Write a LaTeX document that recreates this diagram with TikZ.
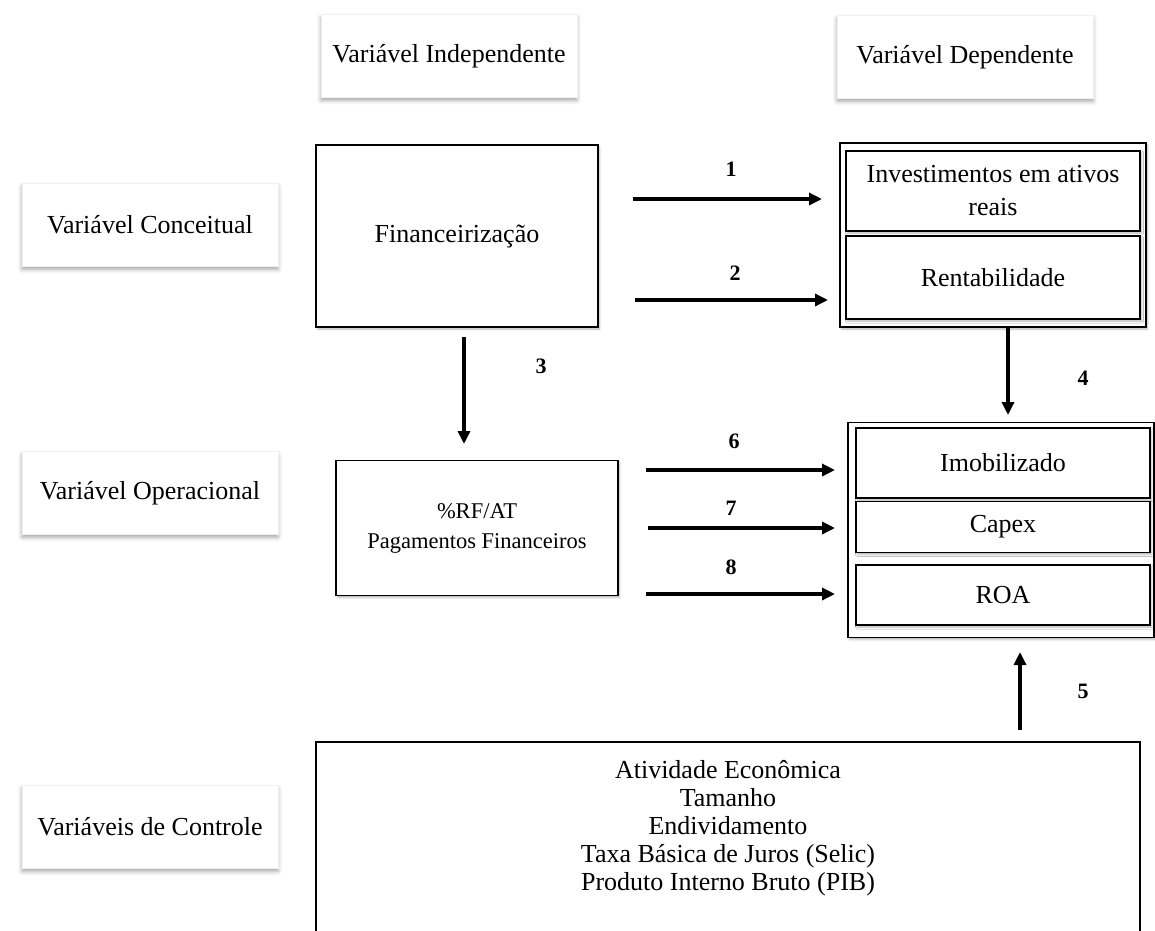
\documentclass[tikz,border=0pt]{standalone}
\usepackage{fontspec}
\setmainfont{Liberation Serif}
\usetikzlibrary{arrows.meta,shadows.blur}

\begin{document}
\begin{tikzpicture}[x=1pt, y=-1pt,
        every node/.style={font=\fontsize{26}{28}\selectfont, align=center, inner sep=0pt},
        rotulo/.style={fill=white, draw=black!6, minimum width=256pt, minimum height=83pt,
            blur shadow={shadow xshift=0pt, shadow yshift=-3pt, shadow blur radius=4pt, shadow opacity=35}},
        caixa/.style={draw, fill=white, line width=1.2pt,
            blur shadow={shadow xshift=1.5pt, shadow yshift=-2pt, shadow blur radius=2pt, shadow opacity=30}},
        seta/.style={line width=3.5pt, -{Triangle[length=13pt,width=12pt]}},
        num/.style={font=\fontsize{22}{24}\selectfont\bfseries}]
        \useasboundingbox (0,0) rectangle (1155,930);
        % rotulos
        \node[rotulo] (indep) at (449,56) {Variável Independente};
        \node[rotulo] (dep) at (965,57) {Variável Dependente};
        \node[rotulo] (conc) at (150,225) {Variável Conceitual};
        \node[rotulo] (oper) at (150,493) {Variável Operacional};
        \node[rotulo] (contr) at (150,827) {Variáveis de Controle};
        % caixas
        \node[caixa, minimum width=282pt, minimum height=182pt] (financ) at (457,236) {Financeirização};
        \node[caixa, minimum width=306pt, minimum height=184pt] (bloco1) at (993,235) {};
        \node[caixa, minimum width=294pt, minimum height=80pt] (invest) at (993,191) {Investimentos em ativos\\[5pt]reais};
        \node[caixa, minimum width=294pt, minimum height=83pt] (rentab) at (993,277.5) {Rentabilidade};
        \node[caixa, minimum width=282pt, minimum height=135pt, font=\fontsize{22.5}{30}\selectfont] (rfat) at (477,528) {\%RF/AT\\Pagamentos Financeiros};
        \node[caixa, minimum width=306pt, minimum height=215pt] (bloco2) at (1001,530) {};
        \node[caixa, minimum width=294pt, minimum height=70pt] (imob) at (1003,463) {Imobilizado};
        \node[caixa, minimum width=294pt, minimum height=51pt] (capex) at (1003,527) {Capex};
        \node[caixa, minimum width=294pt, minimum height=60pt] (roa) at (1003,595) {ROA};
        \draw[line width=1.2pt] (316,935) |- (1140,742) -- (1140,935);
        \node (controle) at (728,828) {Atividade Econômica\\Tamanho\\Endividamento\\Taxa Básica de Juros (Selic)\\Produto Interno Bruto (PIB)};
        % pontas das setas
        \coordinate (s1) at (633,199); \coordinate (e1) at (822,199);
        \coordinate (s2) at (635,300); \coordinate (e2) at (828,300);
        \coordinate (s3) at (464,337); \coordinate (e3) at (464,444);
        \coordinate (s4) at (1008,327); \coordinate (e4) at (1008,415);
        \coordinate (s5) at (1020,730); \coordinate (e5) at (1020,652);
        \coordinate (s6) at (646,470); \coordinate (e6) at (835,470);
        \coordinate (s7) at (648,528); \coordinate (e7) at (835,528);
        \coordinate (s8) at (646,594); \coordinate (e8) at (835,594);
        \foreach \i in {1,...,8}
            \draw[seta] (s\i) -- (e\i);
        % numeros
        \node[num] (n1) at (731,169) {1};
        \node[num] (n2) at (735,273) {2};
        \node[num] (n3) at (541,366) {3};
        \node[num] (n4) at (1083,378) {4};
        \node[num] (n5) at (1083,691) {5};
        \node[num] (n6) at (734,441) {6};
        \node[num] (n7) at (731,508) {7};
        \node[num] (n8) at (731,567) {8};
    \end{tikzpicture}
\end{document}
